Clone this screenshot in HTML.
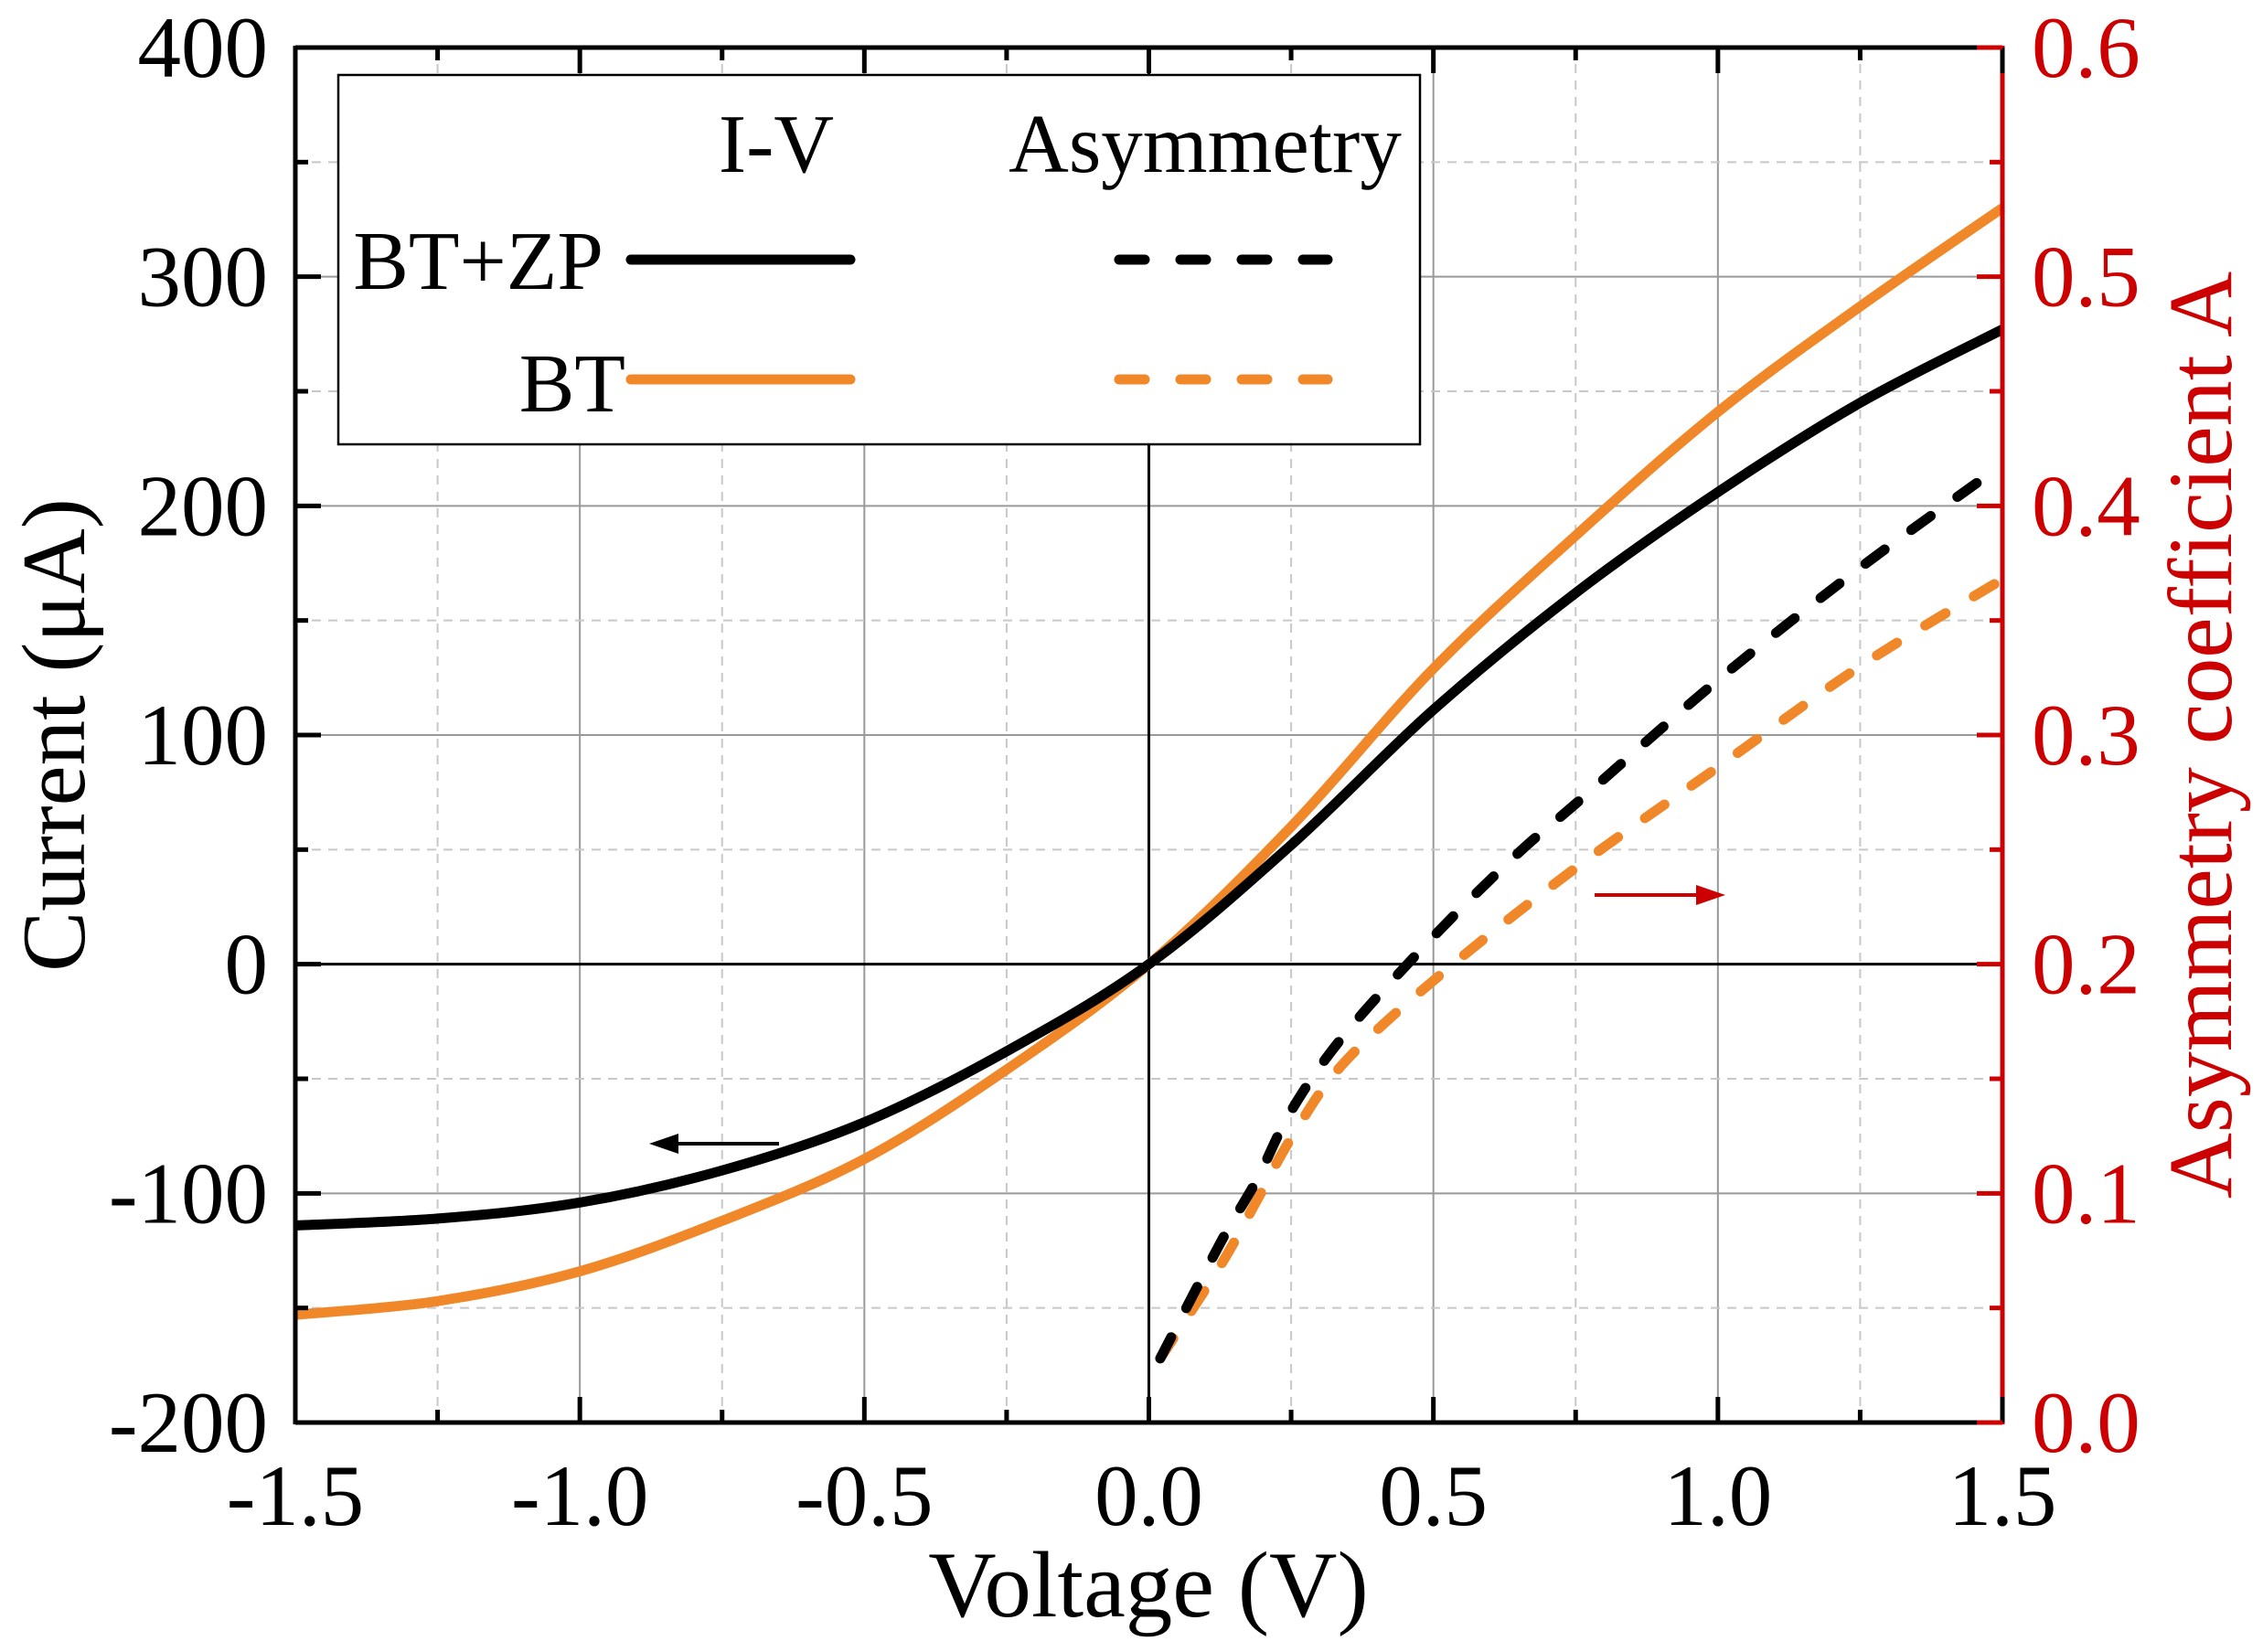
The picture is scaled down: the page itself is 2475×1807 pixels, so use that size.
<!DOCTYPE html>
<html><head><meta charset="utf-8"><style>
html,body{margin:0;padding:0;background:#fff;}
svg{display:block;font-family:"Liberation Serif",serif;}
</style></head><body>
<svg id="chart" width="2475" height="1807" viewBox="0 0 2475 1807" xmlns="http://www.w3.org/2000/svg">
<g id="grid"></g>
<g id="series"></g>
<g id="axes"></g>
<g>
  <rect x="370" y="82" width="1183" height="404" fill="#fff" stroke="#000" stroke-width="2.5"/>
  <text x="849" y="188" font-size="91" text-anchor="middle">I-V</text>
  <text x="1318" y="188" font-size="91" text-anchor="middle">Asymmetry</text>
  <text x="660" y="316" font-size="91" text-anchor="end">BT+ZP</text>
  <text x="684" y="450" font-size="91" text-anchor="end">BT</text>
  <line x1="690" y1="284" x2="930" y2="284" stroke="#000" stroke-width="11" stroke-linecap="round"/>
  <line x1="690" y1="415" x2="930" y2="415" stroke="#f0882a" stroke-width="11" stroke-linecap="round"/>
  <line x1="1224" y1="284" x2="1452" y2="284" stroke="#000" stroke-width="11" stroke-dasharray="28 39" stroke-linecap="round"/>
  <line x1="1224" y1="415" x2="1452" y2="415" stroke="#f0882a" stroke-width="11" stroke-dasharray="28 39" stroke-linecap="round"/>
</g>
<g>
  <line x1="852" y1="1251" x2="735" y2="1251" stroke="#000" stroke-width="4"/>
  <polygon points="710,1251 742,1240 742,1262" fill="#000"/>
  <line x1="1744" y1="979" x2="1862" y2="979" stroke="#cc0000" stroke-width="4"/>
  <polygon points="1887,979 1855,968 1855,990" fill="#cc0000"/>
</g>
<text x="1256" y="1768" font-size="103" text-anchor="middle">Voltage (V)</text>
<text transform="translate(92,804) rotate(-90)" font-size="99" text-anchor="middle">Current (μA)</text>
<text transform="translate(2440,804) rotate(-90)" font-size="100" text-anchor="middle" fill="#cc0000">Asymmetry coefficient A</text>
</svg>
<script>
const volts=[-1.5,-1.25,-1.0,-0.75,-0.5,-0.25,0,0.25,0.5,0.75,1.0,1.25,1.5];
const ivBTZP=[-114,-111,-104,-90,-69,-38,0,52,111,162,206,245,277];
const ivBT=[-153,-147,-134,-112,-85,-46,0,60,129,187,241,287,330];
const asymV_BTZP=[0.02,0.127,0.19,0.25,0.343,0.5,0.647,0.75,1.0,1.25,1.5];
const asymBTZP=[0.028,0.079,0.106,0.136,0.169,0.212,0.248,0.27,0.324,0.373,0.418];
const asymV_BT=[0.02,0.127,0.19,0.25,0.343,0.52,0.75,1.0,1.25,1.5];
const asymBT=[0.028,0.069,0.097,0.124,0.157,0.197,0.242,0.286,0.33,0.368];
const xTicks=["-1.5","-1.0","-0.5","0.0","0.5","1.0","1.5"];
const yTicks=["-200","-100","0","100","200","300","400"];
const y2Ticks=["0.0","0.1","0.2","0.3","0.4","0.5","0.6"];

const L=323,R=2190,T=52,B=1556;
const X=v=>L+(v+1.5)/3*(R-L);
const Y=c=>B-(c+200)/600*(B-T);
const Y2=a=>B-a/0.6*(B-T);
const NS="http://www.w3.org/2000/svg";
function mk(tag,attrs,parent){const e=document.createElementNS(NS,tag);for(const k in attrs)e.setAttribute(k,attrs[k]);parent.appendChild(e);return e;}
const grid=document.getElementById('grid'),axes=document.getElementById('axes'),ser=document.getElementById('series');
for(let i=1;i<12;i++){const x=X(-1.5+i*0.25);const major=i%2===0;
  const g=mk('line',{x1:x,y1:T,x2:x,y2:B,stroke:major?'#999':'#c8c8c8','stroke-width':2,'stroke-dasharray':major?'none':'10 8'},grid);
  
  }
for(let i=1;i<12;i++){const y=Y(-200+i*50);const major=i%2===0;
  const g=mk('line',{x1:L,y1:y,x2:R,y2:y,stroke:major?'#999':'#c8c8c8','stroke-width':2,'stroke-dasharray':major?'none':'10 8'},grid);
  
  }
mk('line',{x1:X(0),y1:T,x2:X(0),y2:B,stroke:'#000','stroke-width':3},grid);
mk('line',{x1:L,y1:Y(0),x2:R,y2:Y(0),stroke:'#000','stroke-width':3},grid);
function path(xs,ys){const p=xs.map((v,i)=>[v,ys[i]]);let d='M'+p[0][0]+','+p[0][1];
  for(let i=0;i<p.length-1;i++){const p0=p[i-1]||p[i],p1=p[i],p2=p[i+1],p3=p[i+2]||p2;
    const c1=[p1[0]+(p2[0]-p0[0])/6,p1[1]+(p2[1]-p0[1])/6],c2=[p2[0]-(p3[0]-p1[0])/6,p2[1]-(p3[1]-p1[1])/6];
    d+=' C'+c1.join(',')+' '+c2.join(',')+' '+p2.join(',');}return d;}
function series(xv,yv,yf,color,dash,name){const e=mk('path',{d:path(xv.map(X),yv.map(yf)),fill:'none',stroke:color,'stroke-width':11,'stroke-linecap':dash?'round':'butt','stroke-dasharray':dash?'26 36':'none'},ser);
  
  }
series(volts,ivBT,Y,'#f0882a',false,'iv-curve-bt');
series(volts,ivBTZP,Y,'#000',false,'iv-curve-btzp');
series(asymV_BT,asymBT,Y2,'#f0882a',true,'asym-curve-bt');
series(asymV_BTZP,asymBTZP,Y2,'#000',true,'asym-curve-btzp');
mk('line',{x1:L,y1:T,x2:R,y2:T,stroke:'#000','stroke-width':5},axes);
mk('line',{x1:L,y1:B,x2:R,y2:B,stroke:'#000','stroke-width':5},axes);
mk('line',{x1:L,y1:T-2,x2:L,y2:B+2,stroke:'#000','stroke-width':5},axes);
mk('line',{x1:R,y1:T-2,x2:R,y2:B+2,stroke:'#cc0000','stroke-width':5},axes);
for(let i=0;i<=12;i++){const x=X(-1.5+i*0.25);const len=i%2===0?28:14;
  mk('line',{x1:x,y1:B,x2:x,y2:B-len,stroke:'#000','stroke-width':5},axes);
  mk('line',{x1:x,y1:T,x2:x,y2:T+len,stroke:'#000','stroke-width':5},axes);}
for(let i=0;i<=12;i++){const len=i%2===0?28:14;const y=Y(-200+i*50);
  mk('line',{x1:L,y1:y,x2:L+len,y2:y,stroke:'#000','stroke-width':5},axes);
  const y2=Y2(i*0.05);
  mk('line',{x1:R,y1:y2,x2:R-len,y2:y2,stroke:'#cc0000','stroke-width':5},axes);}
xTicks.forEach(t=>{const e=mk('text',{x:X(parseFloat(t)),y:1668,'font-size':95,'text-anchor':'middle'},axes);e.textContent=t;
  
  });
yTicks.forEach(t=>{const e=mk('text',{x:293,y:Y(parseFloat(t))+32,'font-size':95,'text-anchor':'end'},axes);e.textContent=t;
  
  });
y2Ticks.forEach(t=>{const e=mk('text',{x:2222,y:Y2(parseFloat(t))+32,'font-size':95,fill:'#cc0000'},axes);e.textContent=t;
  
  });
</script>
</body></html>
